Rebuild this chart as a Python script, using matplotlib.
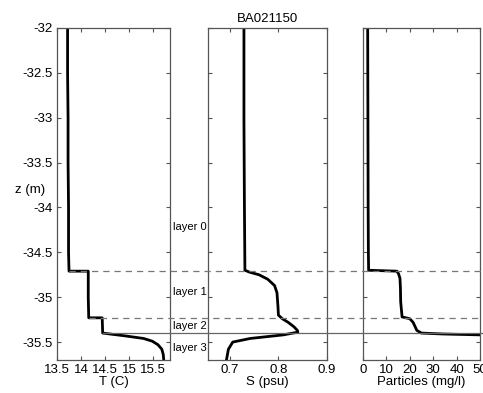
import numpy as np
import matplotlib
matplotlib.use("Agg")
import matplotlib.pyplot as plt
from matplotlib.lines import Line2D

plt.rcParams['font.family'] = ['Liberation Sans', 'DejaVu Sans']

# Temperature profile
T_z = [-32.0, -32.5, -33.0, -33.5, -34.0, -34.5, -34.71, -34.71, -35.0, -35.23,
       -35.23, -35.40, -35.43, -35.46, -35.49, -35.53, -35.58, -35.64, -35.70]
T = [13.72, 13.72, 13.73, 13.73, 13.74, 13.74, 13.75, 14.15, 14.15, 14.16,
     14.44, 14.45, 14.90, 15.30, 15.48, 15.60, 15.68, 15.71, 15.72]

# Salinity profile
S_z = [-32.0, -33.0, -34.0, -34.70, -34.72, -34.75, -34.80, -34.87, -34.95, -35.10,
       -35.20, -35.24, -35.28, -35.33, -35.37, -35.39, -35.42, -35.46, -35.50,
       -35.58, -35.70]
S = [0.729, 0.729, 0.730, 0.731, 0.740, 0.760, 0.778, 0.792, 0.797, 0.799,
     0.800, 0.808, 0.820, 0.832, 0.839, 0.840, 0.810, 0.742, 0.706,
     0.697, 0.693]

# Particle concentration profile
P_z = [-32.0, -33.0, -34.0, -34.5, -34.70, -34.71, -34.74, -34.79, -34.90, -35.05,
       -35.22, -35.24, -35.28, -35.33, -35.37, -35.40, -35.41, -35.42, -35.43,
       -35.50, -35.70]
P = [2.0, 2.1, 2.2, 2.3, 2.4, 14.5, 15.2, 15.8, 16.0, 16.1,
     16.7, 20.0, 21.4, 22.3, 23.0, 25.0, 34.0, 50.0, 56.0,
     70.0, 80.0]

# Layer boundaries (dashed, dashed, solid) and layer labels
bounds = [-34.71, -35.23, -35.40]
bound_styles = ['--', '--', '-']
layer_names = ['layer 0', 'layer 1', 'layer 2', 'layer 3']
layer_z = [-34.22, -34.94, -35.32, -35.57]

z_ticks = [-32, -32.5, -33, -33.5, -34, -34.5, -35, -35.5]
z_tick_labels = ['-32', '-32.5', '-33', '-33.5', '-34', '-34.5', '-35', '-35.5']
T_ticks = [13.5, 14, 14.5, 15, 15.5]
S_ticks = [0.7, 0.8, 0.9]
P_ticks = [0, 10, 20, 30, 40, 50]

W, H = 483, 393
fig = plt.figure(figsize=(W / 100, H / 100), dpi=100)

bottom = (H - 360) / H
height = (360 - 28) / H
ax1 = fig.add_axes([57 / W, bottom, 113 / W, height])
ax2 = fig.add_axes([208 / W, bottom, 119 / W, height])
ax3 = fig.add_axes([363 / W, bottom, 117 / W, height])

frame_col = '#555555'
fs = 9.5
for ax in (ax1, ax2, ax3):
    ax.set_ylim(-35.7, -32)
    ax.set_yticks(z_ticks)
    ax.tick_params(direction='in', length=3, width=0.8, color=frame_col,
                   top=True, right=True, labelsize=fs, pad=3)
    for sp in ax.spines.values():
        sp.set_color(frame_col)
        sp.set_linewidth(0.9)

ax1.plot(T, T_z, color='black', lw=2.0)
ax1.set_xlim(13.5, 15.85)
ax1.set_xticks(T_ticks)
ax1.set_xticklabels(['13.5', '14', '14.5', '15', '15.5'])
ax1.set_yticklabels(z_tick_labels)
ax1.set_xlabel('T (C)', fontsize=fs, labelpad=0)

ax2.plot(S, S_z, color='black', lw=2.0)
ax2.set_xlim(0.655, 0.9)
ax2.set_xticks(S_ticks)
ax2.set_xticklabels(['0.7', '0.8', '0.9'])
ax2.set_yticklabels([])
ax2.set_xlabel('S (psu)', fontsize=fs, labelpad=0)
ax2.set_title('BA021150', fontsize=fs, pad=4)

ax3.plot(P, P_z, color='black', lw=2.0)
ax3.set_xlim(0, 50)
ax3.set_xticks(P_ticks)
ax3.set_yticklabels([])
ax3.set_xlabel('Particles (mg/l)', fontsize=fs, labelpad=0)

fig.text(30 / W, (H - 190) / H, 'z (m)', fontsize=fs, ha='center', va='center')

# Boundary lines start at the temperature profile and run across all panels
T_arr = np.array(T)
Tz_arr = np.array(T_z)
for b, ls in zip(bounds, bound_styles):
    idx = np.argmax(Tz_arr <= b + 1e-9)
    x0, y0 = fig.transFigure.inverted().transform(
        ax1.transData.transform((T_arr[idx], b)))
    col = '#777777' if ls == '--' else '#666666'
    fig.add_artist(Line2D([x0, 1.0], [y0, y0], transform=fig.transFigure,
                          color=col, lw=0.9, ls=ls,
                          dashes=(5, 4) if ls == '--' else (None, None)))

# Layer labels sit in the gap between the first two panels
for name, z in zip(layer_names, layer_z):
    _, y0 = fig.transFigure.inverted().transform(ax1.transData.transform((14, z)))
    fig.text(173 / W, y0, name, fontsize=8, ha='left', va='center')

fig.savefig('out.png', dpi=100)
